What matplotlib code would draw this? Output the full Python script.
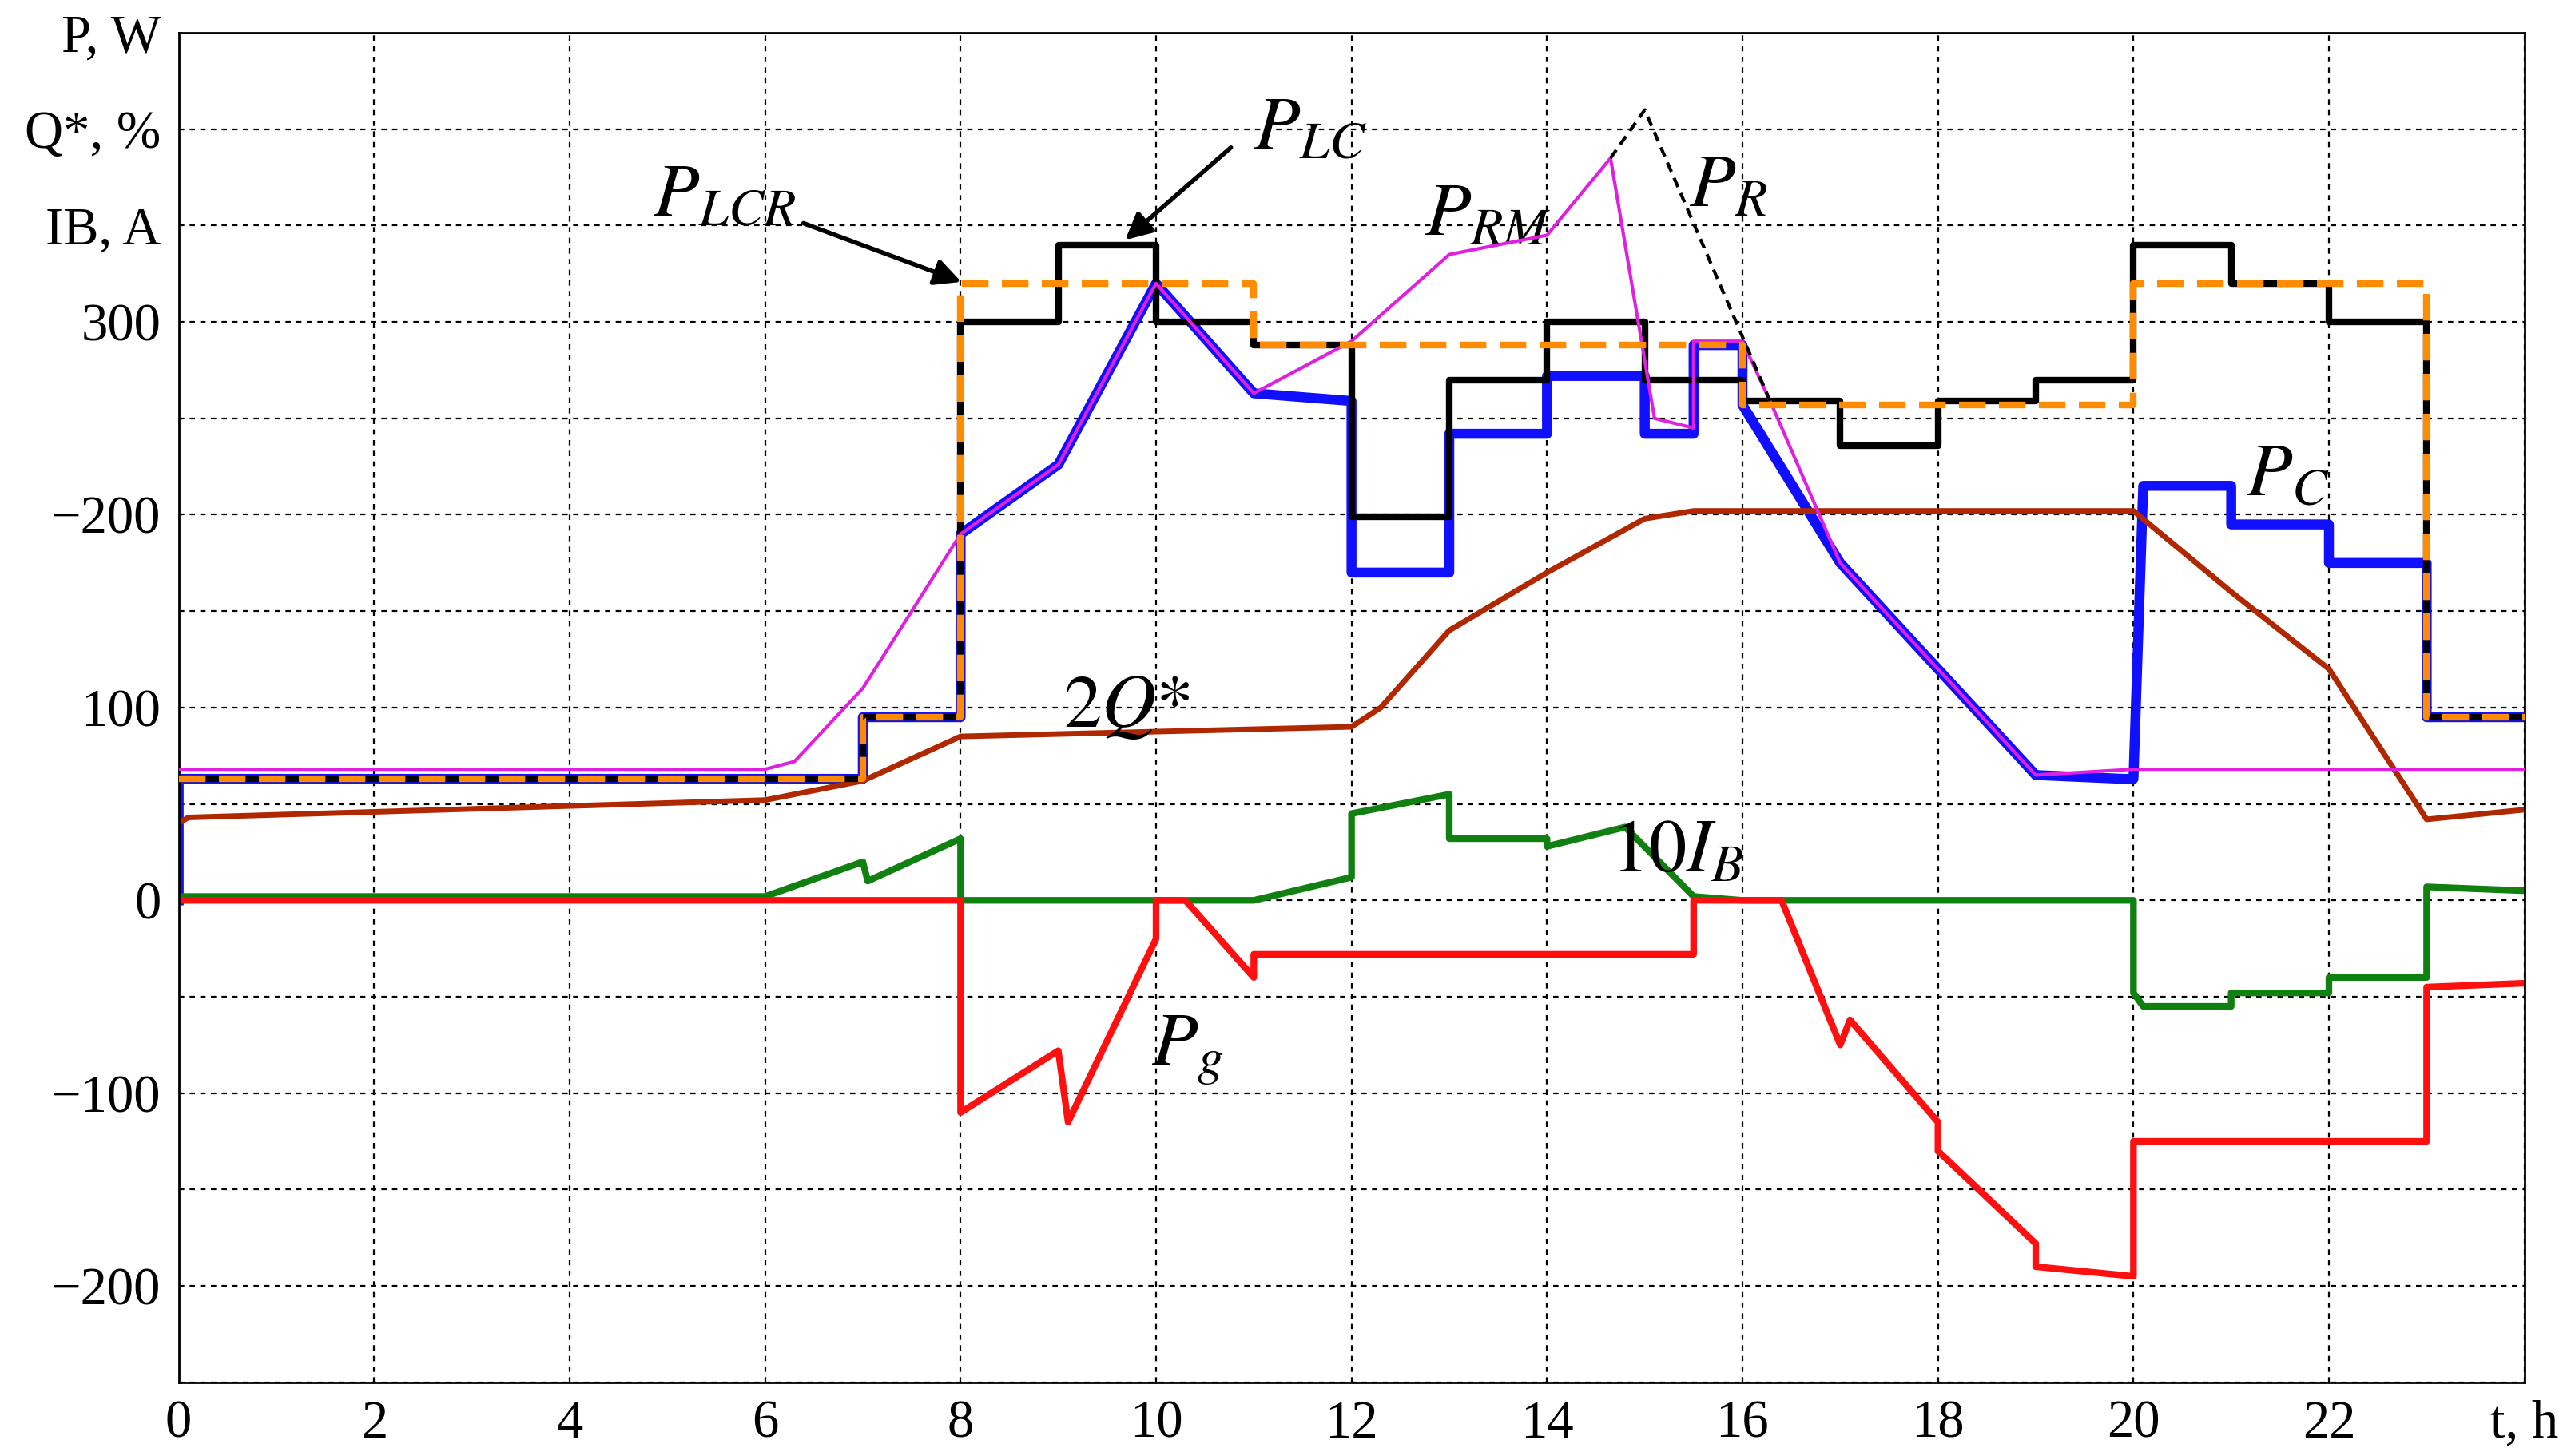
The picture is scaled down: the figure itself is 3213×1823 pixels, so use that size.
import matplotlib
matplotlib.use("Agg")
import matplotlib.pyplot as plt

plt.rcParams['font.family'] = ['Liberation Serif', 'DejaVu Serif']
plt.rcParams['mathtext.fontset'] = 'stix'

# step series: values held on [t_i, t_i+1)
t_step = [0, 7, 8, 9, 10, 11, 12, 13, 14, 15, 16, 17, 18, 19, 20, 21, 22, 23, 24]
p_lc = [63, 95, 300, 340, 300, 288, 199, 270, 300, 270, 259, 236, 259, 270, 340, 320, 300, 95, 95]
t_lcr = [0, 7, 8, 11, 16, 20, 23, 24]
p_lcr = [63, 95, 320, 288, 257, 320, 95, 95]

# P_C
t_c = [0, 0, 7, 7, 8, 8, 9, 10, 11, 12, 12, 13, 13, 14, 14, 15, 15, 15.5, 15.5, 16, 16, 17, 18, 19, 19.9, 20, 20.1, 21, 21, 22, 22, 23, 23, 24]
p_c = [0, 63, 63, 95, 95, 190, 226, 320, 263, 259, 170, 170, 242, 242, 272, 272, 242, 242, 288, 288, 257, 175, 120, 65, 63, 63, 215, 215, 195, 195, 175, 175, 95, 95]

# P_RM
t_rm = [0, 6, 6.3, 7, 8, 9, 10, 11, 12, 13, 14, 14.65, 14.8, 15.1, 15.5, 15.5, 16, 16.3, 17, 18, 19, 20, 24]
p_rm = [68, 68, 72, 110, 190, 226, 320, 263, 290, 335, 345, 385, 340, 250, 245, 290, 290, 257, 175, 120, 65, 68, 68]

# P_R (dashed peak)
t_r = [14.65, 15.0, 16.3]
p_r = [385, 410, 257]

# 2Q*
t_q = [0, 0.1, 6, 7, 8, 12, 12.3, 13, 14, 15, 15.5, 20, 21, 22, 23, 24]
q2 = [40, 43, 52, 62, 85, 90, 100, 140, 170, 198, 202, 202, 160, 120, 42, 47]

# 10 I_B
t_ib = [0, 6, 7, 7.05, 8, 8, 11, 12, 12, 13, 13, 14, 14, 14.8, 15.5, 16, 20, 20, 20.1, 21, 21, 22, 22, 23, 23, 24]
ib10 = [2, 2, 20, 10, 32, 0, 0, 12, 45, 55, 32, 32, 28, 38, 2, 0, 0, -48, -55, -55, -48, -48, -40, -40, 7, 5]

# P_g
t_g = [0, 8, 8, 9, 9.1, 10, 10, 10.3, 11, 11, 15.5, 15.5, 16.4, 17, 17.1, 18, 18, 19, 19, 20, 20, 23, 23, 24]
p_g = [0, 0, -110, -78, -115, -20, 0, 0, -40, -28, -28, 0, 0, -75, -62, -115, -130, -178, -190, -195, -125, -125, -45, -43]

y_ticks = [450, 400, 350, 300, 200, 100, 0, -100, -200]
y_labels = ['P, W', 'Q*, %', 'IB, A', '300', '\u2212200', '100', '0', '\u2212100', '\u2212200']
x_ticks = list(range(0, 24, 2)) + [24]
x_labels = [str(v) for v in range(0, 24, 2)] + ['t, h']

fig = plt.figure(figsize=(16.065, 9.115), dpi=200)
ax = fig.add_axes([0.0696, 0.0506, 0.9138, 0.9269])

ax.step(t_step, p_lc, where='post', color='black', lw=3.0, zorder=3)
ax.plot(t_c, p_c, color='#1010ff', lw=4.5, zorder=2)
ax.plot(t_rm, p_rm, color='#e020e0', lw=1.5, zorder=4)
ax.plot(t_r, p_r, color='black', lw=1.5, ls=(0, (3, 2)), zorder=4)
ax.step(t_lcr, p_lcr, where='post', color='#ff8c00', lw=3.0, ls=(0, (4, 2)), zorder=5)
ax.plot(t_q, q2, color='#b02800', lw=2.5, zorder=2)
ax.plot(t_ib, ib10, color='#108010', lw=3.0, zorder=2)
ax.plot(t_g, p_g, color='#ff1010', lw=3.0, zorder=2)

ax.set_xlim(0, 24)
ax.set_ylim(-250, 450)
ax.set_xticks(x_ticks)
ax.set_xticklabels(x_labels)
ax.set_yticks(y_ticks)
ax.set_yticklabels(y_labels)
ax.set_xticks(range(0, 25, 2), minor=True)
ax.set_yticks(range(-250, 451, 50), minor=True)
ax.grid(which='both', color='black', ls=(0, (3, 3)), lw=0.8)
ax.tick_params(which='both', length=0, labelsize=24, pad=8)
for s in ax.spines.values():
    s.set_linewidth(1.0)

fs = 34
ax.text(11.0, 390, r'$P_{LC}$', fontsize=fs)
ax.annotate('', xy=(9.65, 341), xytext=(10.8, 392),
            arrowprops=dict(arrowstyle='-|>', color='black', lw=2, mutation_scale=25))
ax.text(4.85, 355, r'$P_{LCR}$', fontsize=fs)
ax.annotate('', xy=(8.05, 320), xytext=(6.35, 352),
            arrowprops=dict(arrowstyle='-|>', color='black', lw=2, mutation_scale=25))
ax.text(12.75, 345, r'$P_{RM}$', fontsize=fs)
ax.text(15.45, 360, r'$P_{R}$', fontsize=fs)
ax.text(21.15, 210, r'$P_{C}$', fontsize=fs)
ax.text(9.05, 90, r'$2Q{*}$', fontsize=fs)
ax.text(14.65, 15, r'$10I_{B}$', fontsize=fs)
ax.text(9.95, -85, r'$P_{g}$', fontsize=fs)

plt.savefig('out.png', dpi=200)
